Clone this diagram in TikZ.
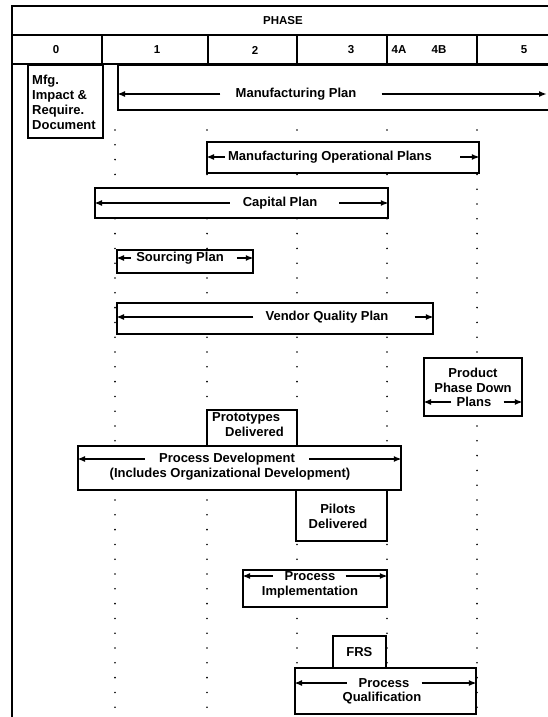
\documentclass[tikz,border=0pt]{standalone}
\usepackage{fontspec}
\setmainfont{Liberation Sans}
\usetikzlibrary{arrows.meta}

\begin{document}
\begin{tikzpicture}[x=1pt,y=-1pt,
  font=\bfseries\fontsize{13}{15}\selectfont,
  every node/.style={inner sep=0pt},
  head/.style={font=\bfseries\fontsize{11.5}{14}\selectfont},
  plan/.style={draw,line width=1.8pt,fill=white,anchor=north west},
  guide/.style={line width=1.8pt,line cap=round,dash pattern=on 0pt off 14.8pt},
  bar/.style={line width=1.6pt,-{Latex[length=8pt,width=6pt]}}]
\clip (0,0) rectangle (548,717);
\fill[white] (0,0) rectangle (548,717);

% dotted phase guides
\draw[guide] (115,130) -- (115,717) (207,130) -- (207,717) (297,130) -- (297,717) (387,130) -- (387,717) (477,130) -- (477,717);

% phase header
\draw[line width=2.8pt] (12,717) -- (12,5);
\draw[line width=1.8pt] (11,6) -- (548,6) (12,35) -- (548,35) (12,64) -- (548,64);
\draw[line width=1.8pt] (102,35) -- (102,137) (208,35) -- (208,64) (297,35) -- (297,64) (387,35) -- (387,64) (477,35) -- (477,64);
\path (283,21) node[head](phase){PHASE}
 (56,50) node[head](p0){0}
 (157,50) node[head](p1){1}
 (255,50) node[head](p2){2}
 (351,50) node[head](p3){3}
 (399,50) node[head](p4a){4A}
 (439,50) node[head](p4b){4B}
 (524,50) node[head](p5){5};

\path (27,64) node[plan,minimum width=75pt,minimum height=73pt](mfg){}
 (117,64) node[plan,minimum width=460pt,minimum height=45pt](mfgplan){}
 (206,141) node[plan,minimum width=272pt,minimum height=31pt](mfgops){}
 (94,187) node[plan,minimum width=293pt,minimum height=30pt](capital){}
 (116,249) node[plan,minimum width=136pt,minimum height=23pt](sourcing){}
 (116,302) node[plan,minimum width=316pt,minimum height=31pt](vendor){}
 (423,357) node[plan,minimum width=98pt,minimum height=58pt](phasedown){}
 (206,409) node[plan,minimum width=90pt,minimum height=36pt](proto){}
 (77,445) node[plan,minimum width=323pt,minimum height=44pt](procdev){}
 (295,489) node[plan,minimum width=91pt,minimum height=51pt](pilots){}
 (242,569) node[plan,minimum width=144pt,minimum height=37pt](procimpl){}
 (332,635) node[plan,minimum width=53pt,minimum height=32pt](frs){FRS}
 (294,667) node[plan,minimum width=181pt,minimum height=46pt](procqual){};

\path (32,102) node[anchor=west,align=left](mfgtxt){Mfg.\\Impact \&\\Require.\\Document}
 (296,94) node(mfgplantxt){Manufacturing Plan}
 (330,157) node(mfgopstxt){Manufacturing Operational Plans}
 (280,203) node(captxt){Capital Plan}
 (180,258) node(sourcingtxt){Sourcing Plan}
 (327,317) node(vendortxt){Vendor Quality Plan}
 (473,380) node[align=center](phasetxt){Product\\Phase Down}
 (474,402) node(planstxt){Plans}
 (212,425) node[anchor=west,align=left](prototxt){Prototypes\\\hspace*{13pt}Delivered}
 (227,459) node(procdevtxt){Process Development}
 (230,474) node(procdevsub){(Includes Organizational Development)}
 (338,516) node[align=center](pilotstxt){Pilots\\Delivered}
 (310,576) node(procimpltxt){Process}
 (310,592) node(procimplsub){Implementation}
 (384,683) node(procqualtxt){Process}
 (382,698) node(procqualsub){Qualification};

\coordinate (cut) at (547,94);
\draw[bar] ([xshift=-15pt]mfgplantxt.west) -- (mfgplantxt.west -| mfgplan.west);
\draw[bar] ([xshift=25pt]mfgplantxt.east) -- (cut);
\draw[bar] ([xshift=-3pt]mfgopstxt.west) -- (mfgopstxt.west -| mfgops.west);
\draw[bar] ([xshift=28pt]mfgopstxt.east) -- (mfgopstxt.east -| mfgops.east);
\draw[bar] ([xshift=-13pt]captxt.west) -- (captxt.west -| capital.west);
\draw[bar] ([xshift=22pt]captxt.east) -- (captxt.east -| capital.east);
\draw[bar] ([xshift=-5pt]sourcingtxt.west) -- (sourcingtxt.west -| sourcing.west);
\draw[bar] ([xshift=13pt]sourcingtxt.east) -- (sourcingtxt.east -| sourcing.east);
\draw[bar] ([xshift=-12pt]vendortxt.west) -- (vendortxt.west -| vendor.west);
\draw[bar] ([xshift=26pt]vendortxt.east) -- (vendortxt.east -| vendor.east);
\draw[bar] ([xshift=-5pt]planstxt.west) -- (planstxt.west -| phasedown.west);
\draw[bar] ([xshift=12pt]planstxt.east) -- (planstxt.east -| phasedown.east);
\draw[bar] ([xshift=-14pt]procdevtxt.west) -- (procdevtxt.west -| procdev.west);
\draw[bar] ([xshift=14pt]procdevtxt.east) -- (procdevtxt.east -| procdev.east);
\draw[bar] ([xshift=-12pt]procimpltxt.west) -- (procimpltxt.west -| procimpl.west);
\draw[bar] ([xshift=10pt]procimpltxt.east) -- (procimpltxt.east -| procimpl.east);
\draw[bar] ([xshift=-12pt]procqualtxt.west) -- (procqualtxt.west -| procqual.west);
\draw[bar] ([xshift=12pt]procqualtxt.east) -- (procqualtxt.east -| procqual.east);
\end{tikzpicture}
\end{document}
